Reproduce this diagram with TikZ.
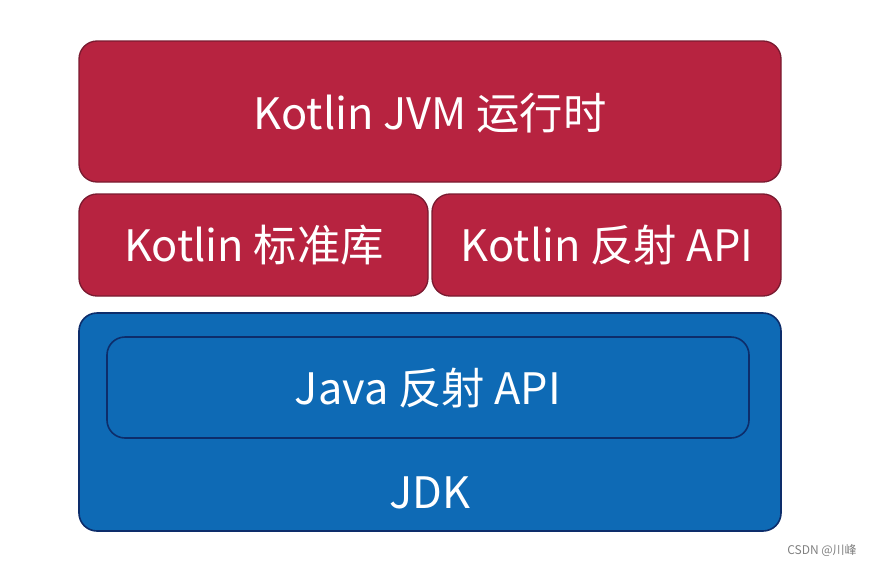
\documentclass[tikz,border=0pt]{standalone}
\usepackage{fontspec}
\setmainfont{Noto Sans CJK SC}
\begin{document}
\begin{tikzpicture}[x=0.75pt,y=-0.75pt,
  redbox/.style={draw=kredb, line width=1pt, fill=kred, rounded corners=13.5pt},
  bluebox/.style={draw=kborder, line width=1.2pt, fill=kblue, rounded corners=13.5pt},
  lbl/.style={text=white, font=\fontsize{32.5}{38}\selectfont, inner sep=0pt},
]
\definecolor{kred}{HTML}{B72340}
\definecolor{kblue}{HTML}{0E6AB5}
\definecolor{kborder}{HTML}{0D2D6B}
\definecolor{kredb}{HTML}{7A1A30}
\useasboundingbox (0,0) rectangle (871,565);
\draw[redbox] (79,41) rectangle (781,182);
\node[lbl] (t) at (430,113) {Kotlin JVM 运行时};
\draw[redbox] (79,194) rectangle (428,296);
\node[lbl] (l) at (254,245) {Kotlin 标准库};
\draw[redbox] (432,194) rectangle (781,296);
\node[lbl] (r) at (607,245) {Kotlin 反射 API};
\draw[bluebox] (79,313) rectangle (781,531);
\draw[bluebox] (107,337) rectangle (749,438);
\node[lbl] (j) at (428,388) {Java 反射 API};
\node[lbl] (k) at (430,493) {JDK};
\node[text=gray, font=\fontsize{9}{10}\selectfont, inner sep=0pt] (w) at (822,550) {CSDN @川峰};
\end{tikzpicture}
\end{document}
